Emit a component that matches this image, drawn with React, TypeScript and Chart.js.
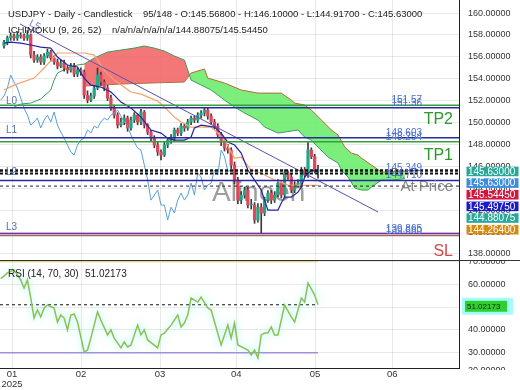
import React, { useEffect, useRef } from "react";
import { Chart, registerables } from "chart.js";

Chart.register(...registerables);

const FONT = "'Liberation Sans', Arial, Helvetica, sans-serif";
Chart.defaults.font.family = FONT;

const X_MIN = -1.2;
const X_MAX = 136.2;

const monthTicks = [2.4, 23.05, 46.7, 69.5, 93.1, 116.2];
const monthLabels: any[] = [["01", "2025"], "02", "03", "04", "05", "06"];

const priceTicks = [138, 140, 142, 144, 146, 148, 150, 152, 154, 156, 158, 160];
const rsiTicks = [30, 40, 50, 60, 70];

const opens = [
  157.0, 157.35, 157.72, 157.9, 157.72, 157.99, 157.9, 157.72, 157.99, 156.16,
  155.71, 155.98, 155.53, 156.07, 156.44, 155.89, 155.53, 155.16, 155.43, 154.98,
  154.79, 155.16, 154.43, 154.79, 154.61, 152.51, 152.05, 152.42, 153.15, 154.34,
  153.7, 153.15, 152.24, 151.32, 150.68, 149.77, 150.05, 150.41, 149.5, 150.23,
  150.68, 150.05, 150.96, 149.77, 149.13, 148.58, 147.95, 147.31, 147.03, 147.95,
  148.4, 148.58, 149.32, 149.04, 149.68, 149.5, 150.05, 150.41, 150.23, 150.68,
  150.87, 151.14, 150.59, 150.05, 149.68, 148.86, 148.22, 147.67, 147.49, 146.12,
  144.75, 142.92, 143.38, 143.84, 142.47, 142.47, 141.1, 142.28, 141.74, 142.92,
  143.56, 142.92, 143.38, 144.47, 143.38, 145.39, 145.02, 143.84, 144.29, 144.47,
  145.66, 145.21, 147.49, 146.9, 145.568,
];
const highs = [
  157.5, 157.9, 158.2, 158.1, 158.3, 158.2, 158.1, 158.4, 158.1, 156.5,
  156.2, 156.2, 156.3, 156.7, 156.6, 156.1, 155.8, 155.7, 155.7, 155.2,
  155.4, 155.4, 155.0, 155.0, 154.8, 152.9, 152.7, 153.4, 154.98, 154.6,
  153.9, 153.4, 152.5, 151.6, 150.9, 150.4, 150.7, 150.6, 150.5, 150.9,
  150.8, 151.2, 151.1, 149.9, 149.3, 148.8, 148.2, 147.5, 148.2, 148.6,
  148.9, 149.5, 149.5, 149.9, 149.9, 150.3, 150.6, 150.6, 150.9, 151.1,
  151.3, 151.3, 150.8, 150.3, 149.9, 149.1, 148.5, 148.0, 147.7, 146.4,
  145.0, 143.7, 144.1, 144.1, 143.0, 142.7, 142.6, 142.6, 143.2, 143.8,
  143.8, 143.7, 144.8, 144.6, 145.7, 145.6, 145.3, 144.6, 144.8, 145.9,
  145.9, 148.2, 147.7, 147.1, 146.1,
];
const lows = [
  156.8, 157.1, 157.5, 157.5, 157.5, 157.7, 157.5, 157.5, 155.9, 155.5,
  155.5, 155.3, 155.3, 155.9, 155.6, 155.3, 154.9, 155.0, 154.7, 154.5,
  154.6, 154.2, 154.2, 154.3, 152.2, 151.8, 151.9, 152.2, 153.0, 153.4,
  152.9, 152.0, 151.1, 150.4, 149.5, 149.6, 149.8, 149.2, 149.3, 150.0,
  149.8, 149.8, 149.5, 148.9, 148.3, 147.7, 147.0, 146.6, 146.9, 147.7,
  148.1, 148.3, 148.8, 148.8, 149.2, 149.3, 149.8, 150.0, 150.0, 150.4,
  150.6, 150.3, 149.8, 149.4, 148.6, 147.9, 147.4, 147.2, 145.8, 144.4,
  142.6, 142.6, 143.1, 142.2, 142.1, 140.8, 140.9, 139.89, 141.5, 142.7,
  142.6, 142.7, 143.2, 143.1, 143.1, 144.8, 143.6, 143.6, 144.1, 144.2,
  145.0, 145.0, 146.7, 145.4, 144.917,
];
const closes = [
  157.35, 157.72, 157.9, 157.72, 157.99, 157.9, 157.72, 157.99, 156.16, 155.71,
  155.98, 155.53, 156.07, 156.44, 155.89, 155.53, 155.16, 155.43, 154.98, 154.79,
  155.16, 154.43, 154.79, 154.61, 152.51, 152.05, 152.42, 153.15, 154.34, 153.7,
  153.15, 152.24, 151.32, 150.68, 149.77, 150.05, 150.41, 149.5, 150.23, 150.68,
  150.05, 150.96, 149.77, 149.13, 148.58, 147.95, 147.31, 147.03, 147.95, 148.4,
  148.58, 149.32, 149.04, 149.68, 149.5, 150.05, 150.41, 150.23, 150.68, 150.87,
  151.14, 150.59, 150.05, 149.68, 148.86, 148.22, 147.67, 147.49, 146.12, 144.75,
  142.92, 143.38, 143.84, 142.47, 142.47, 141.1, 142.28, 141.74, 142.92, 143.56,
  142.92, 143.38, 144.47, 143.38, 145.39, 145.02, 143.84, 144.29, 144.47, 145.66,
  145.21, 147.49, 146.9, 145.57, 145.63,
];

const tenkan: [number, number][] = [
  [0, 157.26], [2, 157.35], [5, 157.26], [8, 157.08], [11, 156.89], [14, 156.8], [16, 155.98],
  [19, 155.25], [22, 155.07], [24, 154.06], [26, 153.42], [29, 153.24], [32, 152.79], [33, 152.51],
  [35, 151.87], [38, 151.32], [41, 150.5], [44, 149.32], [47, 149.04], [49, 148.58], [51, 148.4],
  [54, 148.4], [56, 148.68], [57, 149.5], [59, 149.77], [63, 149.59], [65, 149.04], [67, 148.22],
  [69, 147.95], [71, 147.21], [73, 145.66], [75, 144.75], [77, 143.84], [78, 142.92], [79, 142.01],
  [82, 142.01], [83, 142.65], [84, 143.2], [86, 143.2], [88, 143.65], [89, 144.11], [90, 145.02],
  [92, 145.66], [94, 145.4975],
];
const kijun: [number, number][] = [
  [0, 152.97], [3, 153.42], [9, 154.06], [12, 154.98], [15, 155.98], [16, 156.35], [24, 156.35],
  [27, 156.16], [30, 154.79], [33, 153.88], [38, 152.79], [41, 152.6], [46, 151.96], [48, 151.42],
  [51, 150.5], [53, 150.05], [56, 149.59], [62, 149.59], [64, 149.04], [66, 148.4], [69, 146.76],
  [71, 146.85], [74, 145.66], [76, 145.48], [78, 145.21], [81, 144.75], [85, 144.29], [94, 144.264],
];
const senkouALead: [number, number][] = [
  [3, 151.42], [5, 151.69], [8, 151.78], [11, 152.15], [14, 152.97], [15, 153.88], [16, 154.52],
  [19, 154.98], [22, 155.25], [24, 155.34],
];
const senkouA: [number, number][] = [
  [24, 155.34], [27, 155.89], [31, 156.44], [35, 156.62], [39, 156.8], [42, 156.99], [45, 156.8],
  [48, 156.53], [51, 156.07], [54, 155.71], [56, 153.88], [62, 152.97], [66, 152.05], [69, 151.42],
  [72, 150.87], [76, 150.23], [78, 149.59], [80, 149.32], [82, 149.04], [84, 149.13], [88, 149.32],
  [90, 148.68], [92, 148.4], [94, 147.76], [97, 146.85], [100, 146.3], [101, 145.66], [103, 145.02],
  [105, 144.02], [107, 143.84], [109, 143.84], [110, 144.11], [113, 144.75], [116, 144.75], [120, 144.88],
];
const senkouB: [number, number][] = [
  [24, 153.33], [35, 153.52], [44, 153.61], [54, 153.7], [56, 154.52], [60, 154.89], [61, 154.06],
  [66, 153.61], [71, 152.97], [76, 152.69], [83, 152.69], [86, 152.05], [87, 151.78], [90, 151.6],
  [92, 151.14], [95, 150.23], [98, 149.32], [100, 148.86], [102, 147.76], [104, 147.21], [106, 147.03],
  [107, 146.76], [110, 146.12], [113, 145.48], [120, 145.54],
];
const trendLine: [number, number][] = [[4.8, 159.0], [112, 141.83]];

const rsi: [number, number][] = [
  [-1, 62.5], [0, 63.6], [1, 65.0], [3, 66.3], [5, 61.9], [6, 58.4], [7, 61.9], [8, 54.0], [9, 45.2],
  [10, 48.7], [11, 45.7], [12, 49.6], [13, 50.9], [15, 49.6], [16, 43.5], [17, 46.5], [18, 45.2],
  [19, 40.0], [20, 46.5], [21, 47.0], [22, 43.5], [24, 30.3], [25, 31.2], [26, 36.4], [28, 47.9],
  [29, 44.3], [31, 37.8], [32, 40.0], [33, 36.4], [35, 32.1], [36, 34.7], [37, 32.5], [38, 33.4],
  [40, 42.1], [41, 37.8], [42, 40.0], [43, 35.6], [46, 32.1], [47, 37.8], [48, 38.6], [50, 42.1],
  [52, 46.5], [53, 41.3], [54, 43.0], [55, 46.5], [56, 54.0], [58, 52.2], [59, 54.4], [61, 49.6],
  [62, 48.7], [65, 33.4], [67, 42.1], [68, 36.4], [69, 43.0], [70, 33.4], [73, 31.2], [74, 29.0],
  [75, 31.2], [76, 27.7], [77, 37.8], [78, 38.6], [79, 38.6], [80, 41.3], [81, 37.8], [82, 37.8],
  [84, 50.9], [86, 45.7], [87, 43.5], [89, 54.0], [90, 52.2], [91, 60.6], [93, 55.3], [94, 51.02173],
];

const levelValues = [151.57, 151.36, 148.603, 148.25, 145.349, 144.71, 139.865, 139.68];
const levelTexts = ["151.57", "151.36", "148.603", "148.254", "145.349", "144.710", "139.865", "139.680"];
const lastPrice = 145.63;
const atPrice = 144.2;

const tagValues = [145.63, 145.63, 145.5445, 145.4975, 144.88075, 144.264];
const tagTexts = ["145.63000", "145.63000", "145.54450", "145.49750", "144.88075", "144.26400"];

const rsiLast = 51.02173;
const rsiUpper = 70;
const rsiLower = 30;
const lastIndex = closes.length - 1;

const GRID = "rgba(0,0,0,0.085)";
const UP = "#22a884";
const DOWN = "#e0475a";
const NAVY = "#2a2aa0";
const GREEN_LVL = "#36a03a";

const pts = (a: [number, number][]) => a.map(([x, y]) => ({ x, y }));

function lineDs(data: any[], color: string, width: number, order: number, extra: any = {}) {
  return {
    type: "line",
    data,
    borderColor: color,
    borderWidth: width,
    pointRadius: 0,
    fill: false,
    tension: 0,
    order,
    ...extra,
  };
}
function hLine(v: number, color: string, width: number, dash: number[], order: number, x2 = X_MAX) {
  return lineDs([{ x: X_MIN, y: v }, { x: x2, y: v }], color, width, order, { borderDash: dash });
}

const levelStyles = [
  { c: GREEN_LVL, w: 1.5, d: [] },
  { c: NAVY, w: 1.5, d: [] },
  { c: NAVY, w: 1.5, d: [] },
  { c: GREEN_LVL, w: 1.5, d: [] },
  { c: "#111", w: 2.2, d: [3, 2] },
  { c: NAVY, w: 1.5, d: [] },
  { c: "#7a2fa0", w: 1.5, d: [] },
  { c: "#9a6666", w: 1.5, d: [] },
];

const topOverlay = {
  id: "topOverlay",
  beforeDatasetsDraw(chart: any) {
    const ctx = chart.ctx;
    ctx.save();
    ctx.font = `28px ${FONT}`;
    ctx.fillStyle = "rgba(115,115,115,0.7)";
    ctx.textAlign = "left";
    ctx.textBaseline = "alphabetic";
    ctx.fillText("Alinoen", 212, 201);
    ctx.restore();
  },
  afterDatasetsDraw(chart: any) {
    const { ctx } = chart;
    const x = chart.scales.x;
    const y = chart.scales.y;
    ctx.save();
    ctx.font = `10px ${FONT}`;
    ctx.fillStyle = "#4a6fd0";
    ctx.textAlign = "right";
    ctx.textBaseline = "alphabetic";
    levelValues.forEach((v, i) => {
      ctx.fillText(levelTexts[i], 422, y.getPixelForValue(v) - 2);
    });
    ctx.textAlign = "left";
    ctx.fillStyle = "#5470b4";
    ctx.fillText("L0", 6, y.getPixelForValue(levelValues[0]) - 1.5);
    ctx.fillText("L1", 6, y.getPixelForValue(levelValues[2]) - 4.5);
    ctx.fillText("L2", 6, y.getPixelForValue(levelValues[4]) + 1.5);
    ctx.fillText("L3", 6, y.getPixelForValue(levelValues[6]) - 4);
    const p1x = x.getPixelForValue(trendLine[0][0]);
    const p1y = y.getPixelForValue(trendLine[0][1]);
    const p2x = x.getPixelForValue(trendLine[1][0]);
    const p2y = y.getPixelForValue(trendLine[1][1]);
    const ang = Math.atan2(p2y - p1y, p2x - p1x);
    ctx.save();
    ctx.translate(p1x + Math.cos(ang) * 8, p1y + Math.sin(ang) * 8);
    ctx.rotate(ang);
    ctx.fillStyle = "#6e7cc8";
    ctx.fillText("L5", 0, -3);
    ctx.restore();
    ctx.textAlign = "right";
    ctx.font = `16px ${FONT}`;
    ctx.fillStyle = "#2a9a2a";
    ctx.fillText("TP2", 453, y.getPixelForValue(levelValues[1]) + 16);
    ctx.fillText("TP1", 453, y.getPixelForValue(levelValues[3]) + 18);
    ctx.fillStyle = "#d24848";
    ctx.fillText("SL", 453, y.getPixelForValue(levelValues[7]) + 20);
    ctx.font = `15px ${FONT}`;
    ctx.fillStyle = "rgba(120,120,120,0.9)";
    ctx.textBaseline = "middle";
    ctx.fillText("At Price", 453, y.getPixelForValue(atPrice) + 1);
    ctx.textAlign = "left";
    ctx.textBaseline = "alphabetic";
    ctx.font = `9.5px ${FONT}`;
    ctx.fillStyle = "#222";
    ctx.fillText("USDJPY - Daily - Candlestick", 8, 17);
    ctx.fillText("95/148 - O:145.56800 - H:146.10000 - L:144.91700 - C:145.63000", 143, 17);
    ctx.fillText("ICHIMOKU (9, 26, 52)", 8, 33);
    ctx.fillText("n/a/n/a/n/a/n/a/144.88075/145.54450", 112, 33);
    ctx.restore();
  },
  afterDraw(chart: any) {
    const { ctx } = chart;
    const y = chart.scales.y;
    ctx.save();
    ctx.strokeStyle = "#333";
    ctx.lineWidth = 1;
    ctx.beginPath();
    ctx.moveTo(0, 260.5);
    ctx.lineTo(520, 260.5);
    ctx.stroke();
    const tagColors = ["#27a898", "#3b8de2", "#d4163c", "#1a1ac6", "#27a898", "#d68a14"];
    const h = 9.6;
    const gap = 2.05;
    let prevBottom = -Infinity;
    ctx.font = `10px ${FONT}`;
    ctx.textAlign = "left";
    ctx.textBaseline = "middle";
    tagValues.forEach((v, i) => {
      const cy = y.getPixelForValue(v) + 1;
      const top = Math.max(cy - h / 2, prevBottom + gap);
      ctx.fillStyle = tagColors[i];
      ctx.fillRect(466.5, top, 52, h);
      ctx.fillStyle = "#fff";
      ctx.fillText(tagTexts[i], 468, top + h / 2 + 0.5);
      prevBottom = top + h;
    });
    ctx.restore();
  },
};

const rsiOverlay = {
  id: "rsiOverlay",
  beforeDatasetDraw(chart: any, args: any) {
    if (args.index === 0) {
      const c = chart.ctx;
      c.save();
      c.shadowColor = "rgba(90,235,235,0.7)";
      c.shadowBlur = 8;
    }
  },
  afterDatasetDraw(chart: any, args: any) {
    if (args.index === 0) chart.ctx.restore();
  },
  afterDraw(chart: any) {
    const { ctx } = chart;
    const y = chart.scales.y;
    ctx.save();
    ctx.font = `10px ${FONT}`;
    ctx.fillStyle = "#222";
    ctx.textAlign = "left";
    ctx.textBaseline = "alphabetic";
    ctx.fillText("RSI (14, 70, 30)", 8, 16);
    ctx.fillText(rsiLast.toFixed(5), 85, 16);
    ctx.save();
    ctx.beginPath();
    ctx.rect(460, 0, 60, 109);
    ctx.clip();
    ctx.font = `9px ${FONT}`;
    ctx.fillStyle = "#333";
    ctx.textBaseline = "middle";
    ctx.fillText((20).toFixed(5), 468, 110);
    ctx.restore();
    const cy = y.getPixelForValue(rsiLast) + 1.5;
    ctx.fillStyle = "rgba(150,250,250,0.85)";
    ctx.fillRect(462, cy - 8.5, 51, 17);
    ctx.fillStyle = "#2fcf2f";
    ctx.fillRect(465, cy - 5.5, 42, 11);
    ctx.fillStyle = "#0a2a0a";
    ctx.font = `8px ${FONT}`;
    ctx.textBaseline = "middle";
    ctx.fillText(rsiLast.toFixed(5), 467, cy + 0.5);
    ctx.restore();
  },
};

function xScale(showLabels: boolean) {
  return {
    type: "linear",
    min: X_MIN,
    max: X_MAX,
    offset: false,
    afterBuildTicks: (s: any) => {
      s.ticks = monthTicks.map((v) => ({ value: v }));
    },
    afterFit: (s: any) => {
      s.height = showLabels ? 22 : 0;
      s.paddingLeft = 0;
      s.paddingRight = 0;
    },
    ticks: {
      display: showLabels,
      autoSkip: false,
      maxRotation: 0,
      padding: 2,
      color: "#333",
      font: { size: 9.5, lineHeight: 1.0, family: FONT },
      callback: (_v: any, i: number) => monthLabels[i],
    },
    grid: { color: GRID, drawTicks: false, offset: false },
    border: { display: showLabels, color: "#222", width: 1 },
  };
}

function yScale(min: number, max: number, ticks: number[]) {
  return {
    type: "linear",
    position: "right",
    min,
    max,
    afterBuildTicks: (s: any) => {
      s.ticks = ticks.map((v) => ({ value: v }));
    },
    afterFit: (s: any) => {
      s.width = 61;
      s.paddingTop = 0;
      s.paddingBottom = 0;
    },
    ticks: {
      autoSkip: false,
      padding: 9,
      color: "#333",
      font: { size: 9, family: FONT },
      callback: (v: any) => Number(v).toFixed(5),
    },
    grid: { color: GRID, drawTicks: false },
    border: { display: true, color: "#222", width: 1 },
  };
}

function topConfig(): any {
  const wicks = closes.map((_c, i) => ({ x: i, y: [lows[i], highs[i]] }));
  const bodies = closes.map((c, i) => ({ x: i, y: [opens[i], c] }));
  const bodyColors = closes.map((c, i) => (c >= opens[i] ? UP : DOWN));
  const chikou = closes.map((c, i) => ({ x: i - 26, y: c })).filter((p) => p.x >= -1);
  const datasets: any[] = [
    lineDs(pts(senkouA), "#3d9a62", 1, 100, {
      fill: { target: 1, above: "rgba(242,100,100,0.88)", below: "rgba(110,236,110,0.9)" },
    }),
    lineDs(pts(senkouB), "#b46a3c", 1, 99),
    lineDs(pts(senkouALead), "#3d9a62", 1, 98),
    {
      type: "bar",
      data: wicks,
      backgroundColor: "#3a3a3a",
      barThickness: 1,
      grouped: false,
      order: 50,
    },
    {
      type: "bar",
      data: bodies,
      backgroundColor: bodyColors,
      barThickness: 2.6,
      minBarLength: 1,
      grouped: false,
      order: 49,
    },
    lineDs(chikou, "#5a9fd8", 1, 40),
    lineDs(pts(kijun), "#f4a36c", 1.2, 39),
    lineDs(pts(tenkan), "#2424a0", 1.2, 38),
    lineDs(pts(trendLine), "#5a50b0", 1, 30),
  ];
  levelValues.forEach((v, i) => {
    const s = levelStyles[i];
    datasets.push(hLine(v, s.c, s.w, s.d, 20 - i));
  });
  datasets.push(hLine(lastPrice, "#111", 2.5, [3, 2], 5));
  datasets.push(hLine(atPrice, "#222", 1, [3, 3], 6));
  return {
    type: "bar",
    data: { datasets },
    options: {
      responsive: false,
      animation: false,
      events: [],
      layout: { padding: 0 },
      plugins: { legend: { display: false }, tooltip: { enabled: false } },
      scales: {
        x: xScale(false),
        y: yScale(137.36, 161.19, priceTicks),
      },
    },
    plugins: [topOverlay],
  };
}

function bottomConfig(): any {
  const datasets: any[] = [
    lineDs(pts(rsi), "#8cc152", 1.5, 1),
    lineDs([{ x: X_MIN, y: rsiUpper }, { x: lastIndex, y: rsiUpper }], "#e2d27e", 1.5, 3),
    lineDs([{ x: X_MIN, y: rsiLower }, { x: lastIndex, y: rsiLower }], "#a58de0", 1.5, 4),
    lineDs([{ x: X_MIN, y: rsiLast }, { x: lastIndex, y: rsiLast }], "#111", 1, 2, { borderDash: [3, 3] }),
  ];
  return {
    type: "line",
    data: { datasets },
    options: {
      responsive: false,
      animation: false,
      events: [],
      layout: { padding: 0 },
      plugins: { legend: { display: false }, tooltip: { enabled: false } },
      scales: {
        x: xScale(true),
        y: yScale(23.29, 70.22, rsiTicks),
      },
    },
    plugins: [rsiOverlay],
  };
}

export default function App() {
  const topRef = useRef<HTMLCanvasElement>(null);
  const botRef = useRef<HTMLCanvasElement>(null);
  useEffect(() => {
    const top = new Chart(topRef.current as HTMLCanvasElement, topConfig());
    const bot = new Chart(botRef.current as HTMLCanvasElement, bottomConfig());
    return () => {
      top.destroy();
      bot.destroy();
    };
  }, []);
  return (
    <div style={{ position: "absolute", left: 0, top: 0, width: 520, height: 390, background: "#fff" }}>
      <canvas ref={topRef} width={520} height={261} style={{ display: "block", width: 520, height: 261 }} />
      <canvas ref={botRef} width={520} height={129} style={{ display: "block", width: 520, height: 129 }} />
    </div>
  );
}
